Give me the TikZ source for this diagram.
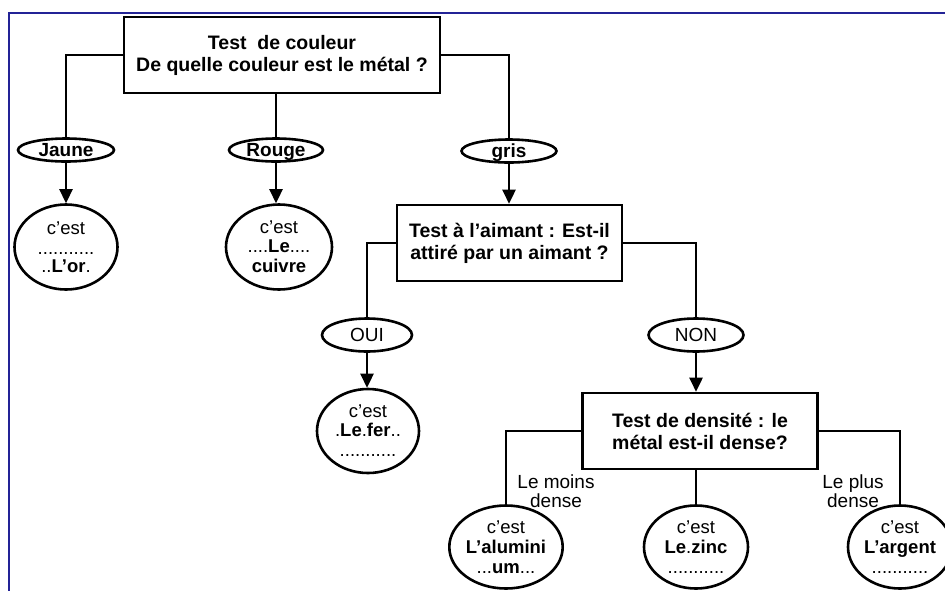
\documentclass[tikz,border=0pt]{standalone}
\usepackage{fontspec}
\setmainfont{Liberation Sans}
\usetikzlibrary{shapes.geometric,arrows.meta}
\definecolor{frameblue}{RGB}{35,35,150}
\begin{document}
\begin{tikzpicture}[x=1pt,y=-1pt,
  line width=2.6pt,
  box/.style={draw, rectangle, align=center, font=\bfseries\fontsize{19.5}{22}\selectfont, inner sep=0pt, line width=2.6pt},
  choice/.style={draw, ellipse, inner sep=0pt, font=\fontsize{19}{20}\selectfont, text height=13.5pt, text depth=0pt, line width=2.6pt},
  result/.style={draw, ellipse, inner sep=0pt, align=center, font=\fontsize{18.5}{20}\selectfont, line width=2.6pt},
  lab/.style={align=center, font=\fontsize{19}{19.5}\selectfont, inner sep=0pt},
  arr/.style={-{Triangle[width=13pt,length=14pt]}}
]
\useasboundingbox (0,0) rectangle (945,590);
\fill[white] (0,0) rectangle (945,590);
\draw[frameblue, line width=2pt] (9,591) -- (9,13) -- (946,13);

% top box
\node[box, minimum width=316pt, minimum height=76pt] (top) at (282,55) {Test\ \ de couleur\\De quelle couleur est le métal ?};

% first level choices
\node[choice, font=\bfseries\fontsize{19}{20}\selectfont, minimum width=96pt, minimum height=23pt] (jaune) at (66,150) {Jaune};
\node[choice, font=\bfseries\fontsize{19}{20}\selectfont, minimum width=94pt, minimum height=23pt] (rouge) at (276,150) {Rouge};
\node[choice, font=\bfseries\fontsize{19}{20}\selectfont, minimum width=95pt, minimum height=23pt] (gris) at (509,151) {gris};

% results first level
\node[result, minimum width=103pt, minimum height=85pt] (or) at (66,247) {c’est\\[0pt]...........\\[-2pt]..\textbf{L’or}.};
\node[result, minimum width=106pt, minimum height=85pt] (cuivre) at (279,247) {c’est\\[-1pt]....\textbf{Le}....\\[0pt]\textbf{cuivre}};

% aimant box
\node[box, minimum width=225pt, minimum height=76pt] (aim) at (509.5,243) {Test à l’aimant : Est-il\\attiré par un aimant ?};

\node[choice, minimum width=90pt, minimum height=33pt] (oui) at (367,335) {OUI};
\node[choice, minimum width=95pt, minimum height=33pt] (non) at (696,335) {NON};

\node[result, minimum width=102pt, minimum height=84pt] (fer) at (368,431) {c’est\\[-1pt].\textbf{Le}.\textbf{fer}..\\[0pt]...........};

% density box
\node[box, minimum width=235pt, minimum height=76pt] (dens) at (700,431) {Test de densité : le\\métal est-il dense?};

\node[result, minimum width=102pt, minimum height=83pt] (alu) at (506,547) {c’est\\[0pt]\textbf{L’alumini}\\[0pt]...\textbf{um}...};
\node[result, minimum width=104pt, minimum height=83pt] (zinc) at (696,547) {c’est\\[0pt]\textbf{Le}.\textbf{zinc}\\[0pt]...........};
\node[result, minimum width=104pt, minimum height=83pt] (arg) at (900,547) {c’est\\[0pt]\textbf{L’argent}\\[0pt]...........};

\node[lab] (moins) at (556,491) {Le moins\\dense};
\node[lab] (plus) at (853,491) {Le plus\\dense};

% connectors
\draw (top.west) -| (jaune.north);
\draw (rouge.north) -- (rouge.north |- top.south);
\draw (top.east) -| (gris.north);
\draw[arr] (jaune.south) -- (or.north);
\draw[arr] (rouge.south) -- (rouge.south |- cuivre.north);
\draw[arr] (gris.south) -- (gris.south |- aim.north);
\draw (aim.west) -| (oui.north);
\draw (aim.east) -| (non.north);
\draw[arr] (oui.south) -- (oui.south |- fer.north);
\draw[arr] (non.south) -- (non.south |- dens.north);
\draw (dens.west) -| (alu.north);
\draw (zinc.north) -- (zinc.north |- dens.south);
\draw (dens.east) -| (arg.north);
\end{tikzpicture}
\end{document}
